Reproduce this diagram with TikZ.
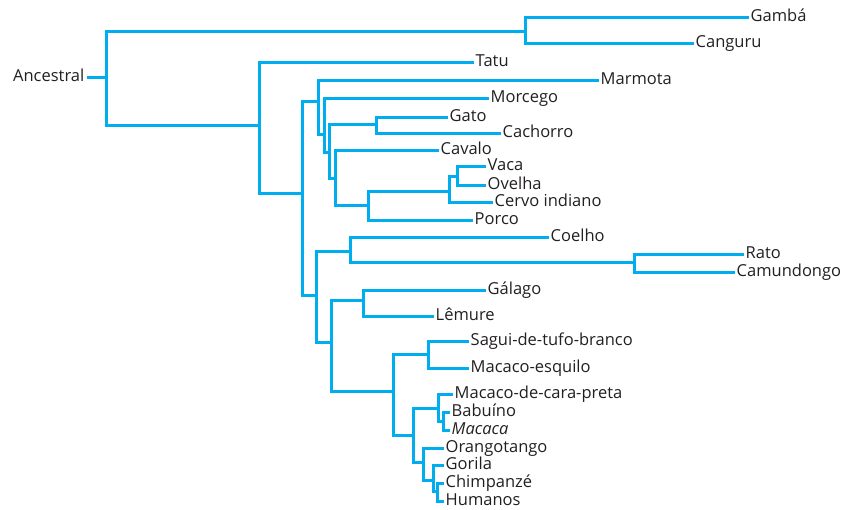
\documentclass[tikz,border=0pt]{standalone}
\usepackage{fontspec}
\setmainfont{Open Sans}
\usepackage{xcolor}
\definecolor{treeblue}{HTML}{00AEEF}
\definecolor{labelgray}{HTML}{231F20}
\usepackage{tikz}

\begin{document}
\begin{tikzpicture}[x=1pt,y=-1pt,
                    taxon/.style={anchor=west,inner xsep=3.5pt,inner ysep=0pt,text height=11pt,text depth=3pt,
                                  text=labelgray,font=\fontsize{16.5}{18}\selectfont},
                    branch/.style={draw=treeblue,line width=3pt,line cap=rect}]
  \useasboundingbox (0,0) rectangle (843,509);

  \node[taxon,anchor=east] (anc) at (88,77.5) {Ancestral};
  \coordinate (root) at (106,77.5);
  \coordinate (mars) at (525,31);
  \coordinate (plac) at (259,125);
  \coordinate (n1) at (302,193);
  \coordinate (n2) at (318,101);
  \coordinate (n3) at (316,295);
  \coordinate (n4) at (324,134);
  \coordinate (n5) at (329,152);
  \coordinate (n6) at (376,124);
  \coordinate (n7) at (335,178);
  \coordinate (n8) at (368,205);
  \coordinate (n9) at (449,191);
  \coordinate (n10) at (457,176);
  \coordinate (n11) at (350,251);
  \coordinate (n12) at (331,342);
  \coordinate (n13) at (634,262);
  \coordinate (n14) at (363,300);
  \coordinate (n15) at (393,391);
  \coordinate (n16) at (428,354);
  \coordinate (n17) at (413,435);
  \coordinate (n18) at (438,408);
  \coordinate (n19) at (423,462);
  \coordinate (n20) at (443,421);
  \coordinate (n21) at (433,480);
  \coordinate (n22) at (437,491);

  \node[taxon] (gamba) at (747,17) {Gambá};
  \node[taxon] (canguru) at (692,43) {Canguru};
  \node[taxon] (tatu) at (472,62) {Tatu};
  \node[taxon] (marmota) at (597,80) {Marmota};
  \node[taxon] (morcego) at (487,98) {Morcego};
  \node[taxon] (gato) at (446,117) {Gato};
  \node[taxon] (cachorro) at (499,133) {Cachorro};
  \node[taxon] (cavalo) at (437,150) {Cavalo};
  \node[taxon] (vaca) at (484,166) {Vaca};
  \node[taxon] (ovelha) at (484,185) {Ovelha};
  \node[taxon] (cervo) at (491,202) {Cervo indiano};
  \node[taxon] (porco) at (471,220) {Porco};
  \node[taxon] (coelho) at (547,237) {Coelho};
  \node[taxon] (rato) at (742,254) {Rato};
  \node[taxon] (camundongo) at (733,272) {Camundongo};
  \node[taxon] (galago) at (484,290) {Gálago};
  \node[taxon] (lemure) at (432,316) {Lêmure};
  \node[taxon] (sagui) at (467,341) {Sagui-de-tufo-branco};
  \node[taxon] (esquilo) at (467,368) {Macaco-esquilo};
  \node[taxon] (carapreta) at (451,394) {Macaco-de-cara-preta};
  \node[taxon] (babuino) at (448,412) {Babuíno};
  \node[taxon] (macaca) at (448,430) {\textit{Macaca}};
  \node[taxon] (orango) at (442,448) {Orangotango};
  \node[taxon] (gorila) at (442,465) {Gorila};
  \node[taxon] (chimp) at (442,483) {Chimpanzé};
  \node[taxon] (humanos) at (442,501) {Humanos};

  \draw[branch] (anc.east) -- (root);
  \draw[branch] (root) |- (mars);
  \draw[branch] (root) |- (plac);
  \draw[branch] (mars) |- (gamba.west);
  \draw[branch] (mars) |- (canguru.west);
  \draw[branch] (plac) |- (tatu.west);
  \draw[branch] (plac) |- (n1);
  \draw[branch] (n1) |- (n2);
  \draw[branch] (n1) |- (n3);
  \draw[branch] (n2) |- (marmota.west);
  \draw[branch] (n2) |- (n4);
  \draw[branch] (n4) |- (morcego.west);
  \draw[branch] (n4) |- (n5);
  \draw[branch] (n5) |- (n6);
  \draw[branch] (n5) |- (n7);
  \draw[branch] (n6) |- (gato.west);
  \draw[branch] (n6) |- (cachorro.west);
  \draw[branch] (n7) |- (cavalo.west);
  \draw[branch] (n7) |- (n8);
  \draw[branch] (n8) |- (n9);
  \draw[branch] (n8) |- (porco.west);
  \draw[branch] (n9) |- (n10);
  \draw[branch] (n9) |- (cervo.west);
  \draw[branch] (n10) |- (vaca.west);
  \draw[branch] (n10) |- (ovelha.west);
  \draw[branch] (n3) |- (n11);
  \draw[branch] (n3) |- (n12);
  \draw[branch] (n11) |- (coelho.west);
  \draw[branch] (n11) |- (n13);
  \draw[branch] (n13) |- (rato.west);
  \draw[branch] (n13) |- (camundongo.west);
  \draw[branch] (n12) |- (n14);
  \draw[branch] (n12) |- (n15);
  \draw[branch] (n14) |- (galago.west);
  \draw[branch] (n14) |- (lemure.west);
  \draw[branch] (n15) |- (n16);
  \draw[branch] (n15) |- (n17);
  \draw[branch] (n16) |- (sagui.west);
  \draw[branch] (n16) |- (esquilo.west);
  \draw[branch] (n17) |- (n18);
  \draw[branch] (n17) |- (n19);
  \draw[branch] (n18) |- (carapreta.west);
  \draw[branch] (n18) |- (n20);
  \draw[branch] (n20) |- (babuino.west);
  \draw[branch] (n20) |- (macaca.west);
  \draw[branch] (n19) |- (orango.west);
  \draw[branch] (n19) |- (n21);
  \draw[branch] (n21) |- (gorila.west);
  \draw[branch] (n21) |- (n22);
  \draw[branch] (n22) |- (chimp.west);
  \draw[branch] (n22) |- (humanos.west);
\end{tikzpicture}
\end{document}
